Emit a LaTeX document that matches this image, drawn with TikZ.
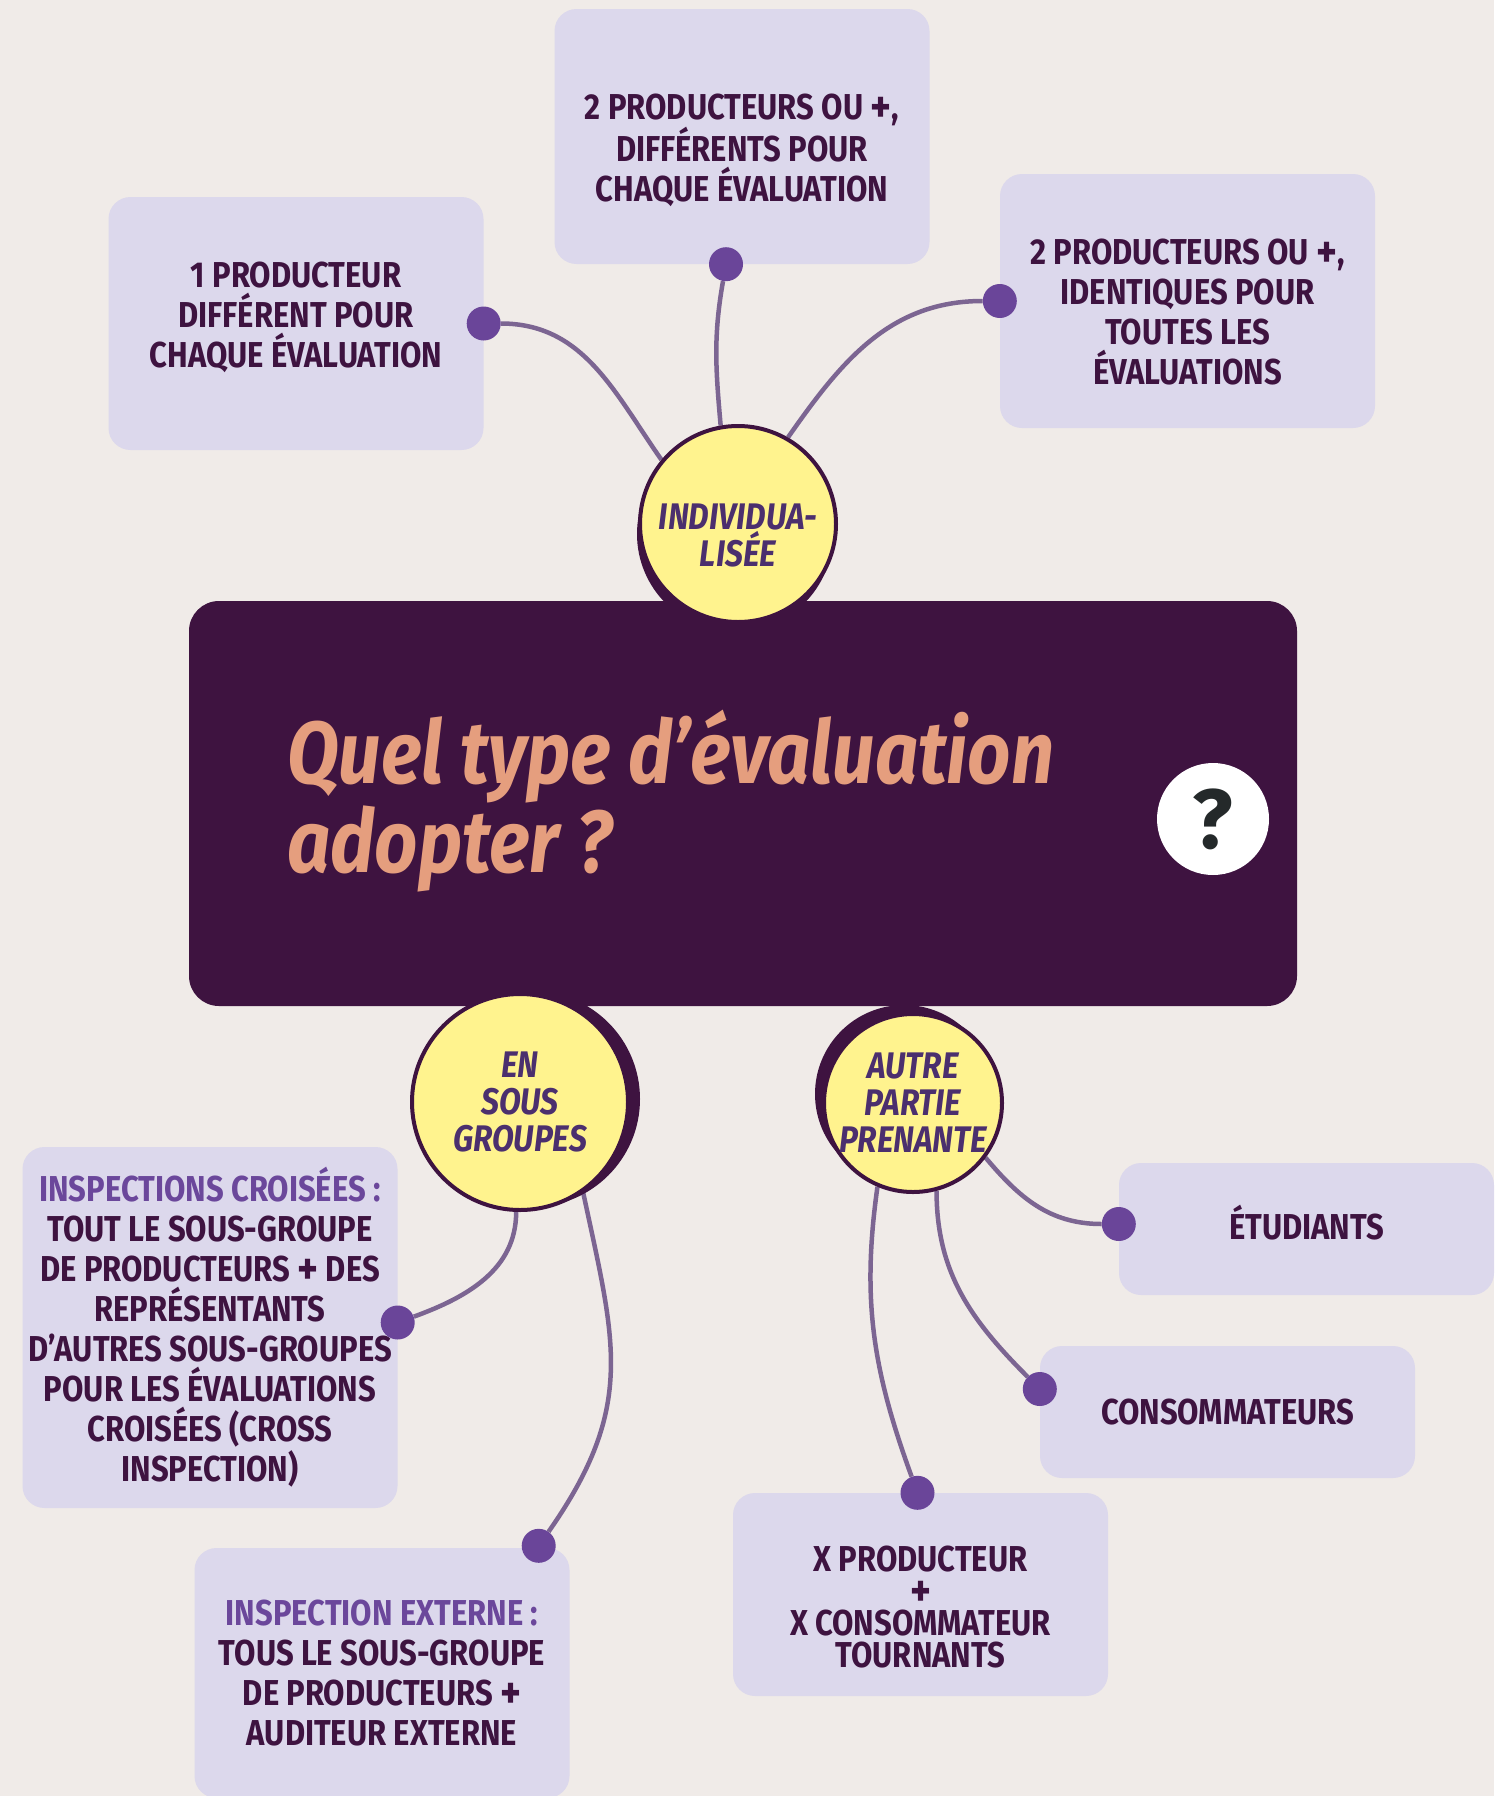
\documentclass[tikz,border=0pt]{standalone}
\usepackage{fontspec}
\setmainfont{Fira Sans}
\newfontfamily\condfont{Fira Sans}[FakeStretch=0.86]
\usetikzlibrary{positioning, shadows}

\definecolor{paper}{HTML}{F0EBE8}
\definecolor{lavande}{HTML}{DCD8EC}
\definecolor{prune}{HTML}{3E1340}
\definecolor{bulle}{HTML}{FFF38E}
\definecolor{bulletext}{HTML}{4B2F6E}
\definecolor{pastille}{HTML}{6A4599}
\definecolor{lien}{HTML}{7C6592}
\definecolor{saumon}{HTML}{E59E7E}
\definecolor{accent}{HTML}{6B479B}
\definecolor{encre}{HTML}{24292A}

\pgfdeclarelayer{fond}
\pgfdeclarelayer{liens}
\pgfsetlayers{fond,liens,main}

% gros signe plus, et cales verticales
\newcommand\plus{\raisebox{-3pt}{\fontsize{46}{40}\selectfont+}}
\newcommand\haut[1]{\rule{0pt}{#1}}
\newcommand\bas[1]{\rule[-#1]{0pt}{#1}}

\tikzset{
  box/.style={rectangle, rounded corners=22pt, fill=lavande, minimum width=375pt,
    inner xsep=4pt, align=center, text=prune,
    font=\condfont\bfseries\fontsize{36}{40}\selectfont},
  bubble/.style={circle, fill=bulle, draw=prune, line width=4pt, inner sep=0pt,
    align=center, text=bulletext,
    font=\condfont\bfseries\itshape\fontsize{37}{37}\selectfont},
  dot/.style={circle, fill=pastille, minimum size=34pt, inner sep=0pt},
  link/.style={draw=lien, line width=4.5pt},
}

\begin{document}
\begin{tikzpicture}[x=1pt, y=1pt]
  \useasboundingbox (0,0) rectangle (1494,-1796);
  \begin{pgfonlayer}{fond}
    \fill[paper] (0,0) rectangle (1494,-1796);
  \end{pgfonlayer}

  % les cases
  \node[box, minimum height=253pt] (prod1) at (296,-323.5)
    {1 PRODUCTEUR\\DIFFÉRENT POUR\\CHAQUE ÉVALUATION\bas{17pt}};
  \node[box, minimum height=255pt] (prod2) at (742,-136.5)
    {\haut{54pt}2 PRODUCTEURS OU \plus,\\DIFFÉRENTS POUR\\CHAQUE ÉVALUATION};
  \node[box, minimum height=254pt] (prod3) at (1187.5,-301)
    {\haut{48pt}2 PRODUCTEURS OU \plus,\\IDENTIQUES POUR\\TOUTES LES\\ÉVALUATIONS};
  \node[box, minimum height=132pt] (etud) at (1306.5,-1229) {ÉTUDIANTS\bas{14pt}};
  \node[box, minimum height=132pt] (conso) at (1227.5,-1412) {CONSOMMATEURS};
  \node[box, minimum height=203pt, font=\condfont\bfseries\fontsize{36}{32}\selectfont]
    (tourn) at (920.5,-1594.5)
    {\haut{50pt}X PRODUCTEUR\\\plus\\X CONSOMMATEUR\\TOURNANTS};
  \node[box, minimum height=361pt] (croise) at (210,-1327.5)
    {\textcolor{accent}{INSPECTIONS CROISÉES :}\\TOUT LE SOUS-GROUPE\\DE PRODUCTEURS \plus{} DES\\REPRÉSENTANTS\\D’AUTRES SOUS-GROUPES\\POUR LES ÉVALUATIONS\\CROISÉES (CROSS\\INSPECTION)};
  \node[box, minimum height=250pt] (externe) at (382,-1673)
    {\textcolor{accent}{INSPECTION EXTERNE :}\\TOUS LE SOUS-GROUPE\\DE PRODUCTEURS \plus\\AUDITEUR EXTERNE};

  % la question
  \node[rectangle, rounded corners=30pt, fill=prune, minimum width=1108pt,
    minimum height=405pt] (question) at (743,-803.5) {};
  \node[anchor=base west, inner sep=0pt, align=left, text=saumon,
    font=\condfont\bfseries\itshape\fontsize{88}{89}\selectfont]
    (titre) at (287,-783) {Quel type d’évaluation};
  \node[anchor=base west, inner sep=0pt, text=saumon,
    font=\condfont\bfseries\itshape\fontsize{88}{89}\selectfont]
    (titre2) at (287,-872) {adopter ?};
  \node[circle, fill=white, minimum size=112pt, inner sep=0pt, text=encre,
    font=\bfseries\fontsize{84}{84}\selectfont] (qmark) at (1213,-819) {?};

  % les bulles
  \node[bubble, minimum size=196pt,
    general shadow={fill=prune, shadow xshift=-3pt, shadow yshift=-10pt}]
    (indiv) at (738,-524) {\haut{48pt}INDIVIDUA-\\LISÉE};
  \node[bubble, minimum size=216pt,
    general shadow={fill=prune, shadow xshift=12pt, shadow yshift=3pt}]
    (groupes) at (520,-1102) {EN\\SOUS\\GROUPES};
  \node[bubble, minimum size=178pt,
    general shadow={fill=prune, shadow xshift=-9pt, shadow yshift=9pt}]
    (partie) at (913,-1103) {AUTRE\\PARTIE\\PRENANTE};

  % les pastilles
  \node[dot] (d1) at (prod1.east) {};
  \node[dot, xshift=-16pt] (d2) at (prod2.south) {};
  \node[dot] (d3) at (prod3.west) {};
  \node[dot, yshift=5pt] (dEtud) at (etud.west) {};
  \node[dot, yshift=23pt] (dConso) at (conso.west) {};
  \node[dot, xshift=-3pt] (dTourn) at (tourn.north) {};
  \node[dot, yshift=5pt] (dCroise) at (croise.east) {};
  \node[dot, xshift=-31pt, yshift=2pt] (dExterne) at (externe.north east) {};

  % les liens
  \begin{pgfonlayer}{liens}
    \draw[link] (indiv.140) to[out=125, in=0] (d1);
    \draw[link] (indiv.100) to[out=95, in=-100] (d2);
    \draw[link] (indiv.60) to[out=55, in=180] (d3);
    \draw[link] (groupes.-92) to[out=-90, in=20] (dCroise);
    \draw[link] (groupes.-55) to[out=-78, in=55, looseness=1.15] (dExterne);
    \draw[link] (partie.-37) to[out=-50, in=180] (dEtud);
    \draw[link] (partie.-75) to[out=-90, in=135] (dConso);
    \draw[link] (partie.-113) to[out=-98, in=110] (dTourn);
  \end{pgfonlayer}
\end{tikzpicture}
\end{document}
